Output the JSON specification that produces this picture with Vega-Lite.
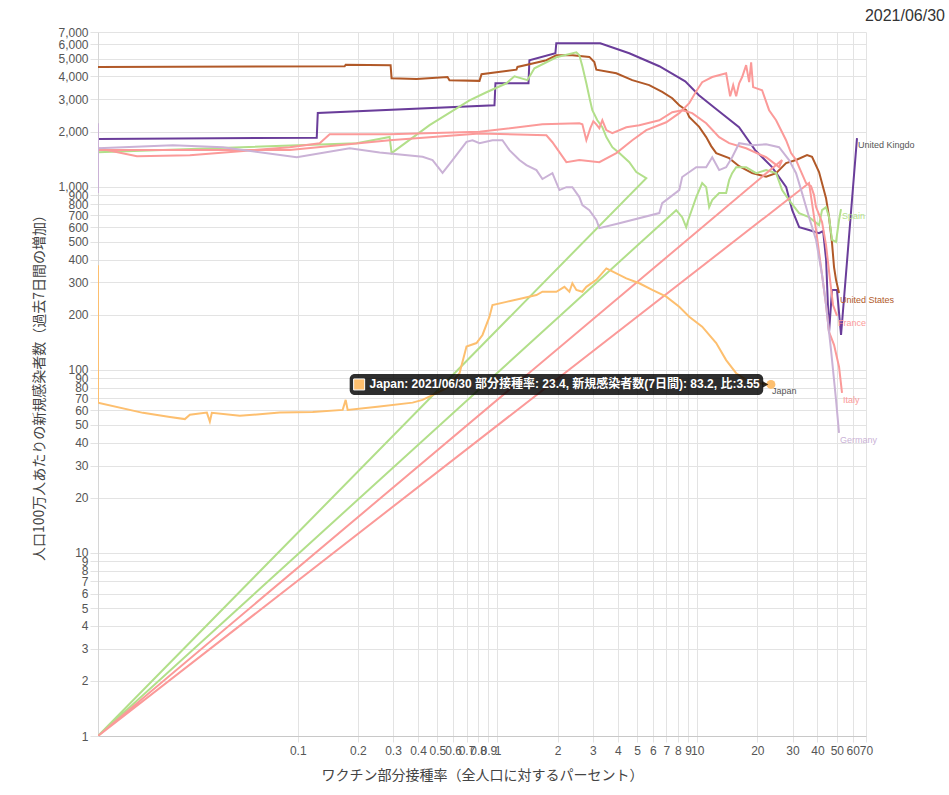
{
"$schema": "https://vega.github.io/schema/vega-lite/v6.json",
"width": 768, "height": 704,
"autosize": {"type": "none"},
"padding": {"left": 98, "top": 32, "right": 83, "bottom": 59},
"background": "white",
"title": {"text": "2021/06/30", "anchor": "end", "frame": "group", "dx": 79, "offset": 2, "fontSize": 16, "fontWeight": "normal", "color": "#333", "font": "Liberation Sans"},
"datasets": {
"series": [
{"c":"United Kingdom","i":0,"x":0.01,"y":1820},{"c":"United Kingdom","i":1,"x":0.1245,"y":1854},{"c":"United Kingdom","i":2,"x":0.126,"y":2530},{"c":"United Kingdom","i":3,"x":0.966,"y":2787},{"c":"United Kingdom","i":4,"x":0.977,"y":3673},{"c":"United Kingdom","i":5,"x":1.43,"y":3673},{"c":"United Kingdom","i":6,"x":1.445,"y":4909},{"c":"United Kingdom","i":7,"x":1.95,"y":5358},{"c":"United Kingdom","i":8,"x":1.97,"y":6073},{"c":"United Kingdom","i":9,"x":3.27,"y":6073},{"c":"United Kingdom","i":10,"x":4.57,"y":5358},{"c":"United Kingdom","i":11,"x":6.46,"y":4550},{"c":"United Kingdom","i":12,"x":8.71,"y":3767},{"c":"United Kingdom","i":13,"x":10.2,"y":3162},{"c":"United Kingdom","i":14,"x":12.3,"y":2685},{"c":"United Kingdom","i":15,"x":16.2,"y":2113},{"c":"United Kingdom","i":16,"x":19.5,"y":1585},{"c":"United Kingdom","i":17,"x":23.7,"y":1279},{"c":"United Kingdom","i":18,"x":27.9,"y":995},{"c":"United Kingdom","i":19,"x":29.9,"y":745},{"c":"United Kingdom","i":20,"x":32.4,"y":602},{"c":"United Kingdom","i":21,"x":36.3,"y":580},{"c":"United Kingdom","i":22,"x":40.7,"y":558},{"c":"United Kingdom","i":23,"x":42.7,"y":573},{"c":"United Kingdom","i":24,"x":44.2,"y":398},{"c":"United Kingdom","i":25,"x":45.7,"y":159},{"c":"United Kingdom","i":26,"x":47.3,"y":273},{"c":"United Kingdom","i":27,"x":50.1,"y":273},{"c":"United Kingdom","i":28,"x":52.5,"y":155},{"c":"United Kingdom","i":29,"x":63.1,"y":1841},
{"c":"United States","i":0,"x":0.01,"y":4509},{"c":"United States","i":1,"x":0.1718,"y":4550},{"c":"United States","i":2,"x":0.1738,"y":4634},{"c":"United States","i":3,"x":0.2917,"y":4603},{"c":"United States","i":4,"x":0.295,"y":3917},{"c":"United States","i":5,"x":0.3936,"y":3872},{"c":"United States","i":6,"x":0.5623,"y":3972},{"c":"United States","i":7,"x":0.575,"y":3819},{"c":"United States","i":8,"x":0.813,"y":3786},{"c":"United States","i":9,"x":0.832,"y":4115},{"c":"United States","i":10,"x":1.245,"y":4361},{"c":"United States","i":11,"x":1.259,"y":4509},{"c":"United States","i":12,"x":1.445,"y":4667},{"c":"United States","i":13,"x":1.758,"y":4909},{"c":"United States","i":14,"x":1.972,"y":5224},{"c":"United States","i":15,"x":2.371,"y":5224},{"c":"United States","i":16,"x":2.884,"y":5117},{"c":"United States","i":17,"x":3.055,"y":4801},{"c":"United States","i":18,"x":3.126,"y":4355},{"c":"United States","i":19,"x":3.936,"y":4168},{"c":"United States","i":20,"x":4.73,"y":3819},{"c":"United States","i":21,"x":5.75,"y":3589},{"c":"United States","i":22,"x":6.68,"y":3299},{"c":"United States","i":23,"x":7.5,"y":3044},{"c":"United States","i":24,"x":8.13,"y":2787},{"c":"United States","i":25,"x":8.81,"y":2618},{"c":"United States","i":26,"x":9.12,"y":2405},{"c":"United States","i":27,"x":10.23,"y":2123},{"c":"United States","i":28,"x":11.09,"y":1866},{"c":"United States","i":29,"x":11.75,"y":1667},{"c":"United States","i":30,"x":12.45,"y":1526},{"c":"United States","i":31,"x":14.45,"y":1432},{"c":"United States","i":32,"x":16.22,"y":1295},{"c":"United States","i":33,"x":18.84,"y":1186},{"c":"United States","i":34,"x":22.13,"y":1135},{"c":"United States","i":35,"x":24.83,"y":1186},{"c":"United States","i":36,"x":27.86,"y":1346},{"c":"United States","i":37,"x":31.26,"y":1399},{"c":"United States","i":38,"x":35.48,"y":1490},{"c":"United States","i":39,"x":37.58,"y":1456},{"c":"United States","i":40,"x":40.74,"y":1202},{"c":"United States","i":41,"x":44.16,"y":866},{"c":"United States","i":42,"x":45.71,"y":682},{"c":"United States","i":43,"x":47.32,"y":492},{"c":"United States","i":44,"x":48.42,"y":364},{"c":"United States","i":45,"x":49.55,"y":310},{"c":"United States","i":46,"x":51.29,"y":263},
{"c":"Spain","i":0,"x":0.01,"y":1007},{"c":"Spain","i":1,"x":0.01,"y":1545},{"c":"Spain","i":2,"x":0.1972,"y":1729},{"c":"Spain","i":3,"x":0.2884,"y":1871},{"c":"Spain","i":4,"x":0.2951,"y":1526},{"c":"Spain","i":5,"x":0.4571,"y":2168},{"c":"Spain","i":6,"x":0.7244,"y":2965},{"c":"Spain","i":7,"x":0.881,"y":3281},{"c":"Spain","i":8,"x":1.109,"y":3673},{"c":"Spain","i":9,"x":1.216,"y":4009},{"c":"Spain","i":10,"x":1.413,"y":3819},{"c":"Spain","i":11,"x":1.531,"y":4436},{"c":"Spain","i":12,"x":1.972,"y":5093},{"c":"Spain","i":13,"x":2.483,"y":5420},{"c":"Spain","i":14,"x":2.57,"y":5224},{"c":"Spain","i":15,"x":2.661,"y":4550},{"c":"Spain","i":16,"x":2.786,"y":3673},{"c":"Spain","i":17,"x":2.884,"y":3083},{"c":"Spain","i":18,"x":2.985,"y":2618},{"c":"Spain","i":19,"x":3.162,"y":2307},{"c":"Spain","i":20,"x":3.35,"y":2113},{"c":"Spain","i":21,"x":3.508,"y":1866},{"c":"Spain","i":22,"x":3.758,"y":1645},{"c":"Spain","i":23,"x":4.074,"y":1526},{"c":"Spain","i":24,"x":4.571,"y":1362},{"c":"Spain","i":25,"x":4.955,"y":1202},{"c":"Spain","i":26,"x":5.559,"y":1114},{"c":"Spain","i":27,"x":0.01,"y":1},{"c":"Spain","i":28,"x":7.85,"y":745},{"c":"Spain","i":29,"x":8.41,"y":682},{"c":"Spain","i":30,"x":8.81,"y":602},{"c":"Spain","i":31,"x":9.02,"y":658},{"c":"Spain","i":32,"x":9.89,"y":878},{"c":"Spain","i":33,"x":10.59,"y":1047},{"c":"Spain","i":34,"x":11.09,"y":995},{"c":"Spain","i":35,"x":11.48,"y":774},{"c":"Spain","i":36,"x":11.89,"y":845},{"c":"Spain","i":37,"x":12.88,"y":923},{"c":"Spain","i":38,"x":13.96,"y":923},{"c":"Spain","i":39,"x":14.45,"y":1086},{"c":"Spain","i":40,"x":14.96,"y":1186},{"c":"Spain","i":41,"x":15.67,"y":1279},{"c":"Spain","i":42,"x":17.58,"y":1279},{"c":"Spain","i":43,"x":19.72,"y":1186},{"c":"Spain","i":44,"x":22.13,"y":1233},{"c":"Spain","i":45,"x":24.83,"y":1186},{"c":"Spain","i":46,"x":26.61,"y":959},{"c":"Spain","i":47,"x":28.84,"y":845},{"c":"Spain","i":48,"x":32.36,"y":718},{"c":"Spain","i":49,"x":36.31,"y":682},{"c":"Spain","i":50,"x":40.74,"y":617},{"c":"Spain","i":51,"x":42.17,"y":745},{"c":"Spain","i":52,"x":44.16,"y":774},{"c":"Spain","i":53,"x":45.71,"y":682},{"c":"Spain","i":54,"x":47.32,"y":512},{"c":"Spain","i":55,"x":49.55,"y":499},{"c":"Spain","i":56,"x":51.29,"y":658},{"c":"Spain","i":57,"x":52.48,"y":755},
{"c":"France","i":0,"x":0.01,"y":1585},{"c":"France","i":1,"x":0.0912,"y":1585},{"c":"France","i":2,"x":0.2884,"y":1795},{"c":"France","i":3,"x":0.813,"y":1954},{"c":"France","i":4,"x":1.758,"y":1911},{"c":"France","i":5,"x":1.884,"y":1750},{"c":"France","i":6,"x":2.213,"y":1362},{"c":"France","i":7,"x":2.57,"y":1399},{"c":"France","i":8,"x":3.236,"y":1362},{"c":"France","i":9,"x":3.936,"y":1526},{"c":"France","i":10,"x":4.732,"y":1795},{"c":"France","i":11,"x":5.559,"y":2037},{"c":"France","i":12,"x":7.0,"y":2250},{"c":"France","i":13,"x":8.13,"y":2523},{"c":"France","i":14,"x":9.12,"y":2860},{"c":"France","i":15,"x":9.89,"y":3325},{"c":"France","i":16,"x":10.59,"y":3724},{"c":"France","i":17,"x":11.89,"y":3972},{"c":"France","i":18,"x":13.96,"y":4168},{"c":"France","i":19,"x":14.62,"y":3118},{"c":"France","i":20,"x":15.14,"y":3589},{"c":"France","i":21,"x":15.67,"y":3118},{"c":"France","i":22,"x":16.22,"y":3673},{"c":"France","i":23,"x":16.79,"y":3972},{"c":"France","i":24,"x":17.58,"y":4613},{"c":"France","i":25,"x":18.2,"y":3724},{"c":"France","i":26,"x":18.62,"y":4786},{"c":"France","i":27,"x":19.05,"y":3499},{"c":"France","i":28,"x":21.13,"y":3367},{"c":"France","i":29,"x":22.91,"y":2618},{"c":"France","i":30,"x":24.83,"y":2307},{"c":"France","i":31,"x":27.86,"y":1795},{"c":"France","i":32,"x":29.51,"y":1526},{"c":"France","i":33,"x":31.26,"y":1399},{"c":"France","i":34,"x":32.36,"y":1279},{"c":"France","i":35,"x":35.08,"y":1047},{"c":"France","i":36,"x":37.15,"y":1007},{"c":"France","i":37,"x":38.46,"y":900},{"c":"France","i":38,"x":39.36,"y":774},{"c":"France","i":39,"x":42.17,"y":641},{"c":"France","i":40,"x":44.16,"y":480},{"c":"France","i":41,"x":46.24,"y":310},{"c":"France","i":42,"x":47.86,"y":226},{"c":"France","i":43,"x":50.12,"y":197},
{"c":"Italy","i":0,"x":0.01,"y":1623},{"c":"Italy","i":1,"x":0.01567,"y":1469},{"c":"Italy","i":2,"x":0.02884,"y":1486},{"c":"Italy","i":3,"x":0.0912,"y":1645},{"c":"Italy","i":4,"x":0.1288,"y":1729},{"c":"Italy","i":5,"x":0.1445,"y":1936},{"c":"Italy","i":6,"x":0.2884,"y":1936},{"c":"Italy","i":7,"x":0.813,"y":1994},{"c":"Italy","i":8,"x":1.679,"y":2193},{"c":"Italy","i":9,"x":2.57,"y":2223},{"c":"Italy","i":10,"x":2.661,"y":2193},{"c":"Italy","i":11,"x":2.786,"y":1795},{"c":"Italy","i":12,"x":2.917,"y":2089},{"c":"Italy","i":13,"x":3.02,"y":2280},{"c":"Italy","i":14,"x":3.126,"y":2193},{"c":"Italy","i":15,"x":3.236,"y":2089},{"c":"Italy","i":16,"x":3.35,"y":2307},{"c":"Italy","i":17,"x":3.508,"y":2037},{"c":"Italy","i":18,"x":3.758,"y":1959},{"c":"Italy","i":19,"x":4.416,"y":2113},{"c":"Italy","i":20,"x":5.129,"y":2168},{"c":"Italy","i":21,"x":6.46,"y":2307},{"c":"Italy","i":22,"x":7.5,"y":2553},{"c":"Italy","i":23,"x":8.41,"y":2618},{"c":"Italy","i":24,"x":9.44,"y":2523},{"c":"Italy","i":25,"x":11.09,"y":2223},{"c":"Italy","i":26,"x":12.88,"y":1866},{"c":"Italy","i":27,"x":14.45,"y":1729},{"c":"Italy","i":28,"x":17.58,"y":1623},{"c":"Italy","i":29,"x":22.13,"y":1449},{"c":"Italy","i":30,"x":25.7,"y":1279},{"c":"Italy","i":31,"x":26.6,"y":1399},{"c":"Italy","i":32,"x":0.01,"y":1},{"c":"Italy","i":33,"x":36.3,"y":1047},{"c":"Italy","i":34,"x":39.36,"y":580},{"c":"Italy","i":35,"x":42.17,"y":330},{"c":"Italy","i":36,"x":44.16,"y":226},{"c":"Italy","i":37,"x":45.71,"y":161},{"c":"Italy","i":38,"x":48.42,"y":137},{"c":"Italy","i":39,"x":51.29,"y":104},{"c":"Italy","i":40,"x":53.09,"y":74.8},
{"c":"Germany","i":0,"x":0.01,"y":923},{"c":"Germany","i":1,"x":0.01,"y":2223},{"c":"Germany","i":2,"x":0.01,"y":1623},{"c":"Germany","i":3,"x":0.0237,"y":1687},{"c":"Germany","i":4,"x":0.0422,"y":1645},{"c":"Germany","i":5,"x":0.0989,"y":1449},{"c":"Germany","i":6,"x":0.182,"y":1623},{"c":"Germany","i":7,"x":0.257,"y":1538},{"c":"Germany","i":8,"x":0.4217,"y":1456},{"c":"Germany","i":9,"x":0.4732,"y":1399},{"c":"Germany","i":10,"x":0.531,"y":1191},{"c":"Germany","i":11,"x":0.5957,"y":1399},{"c":"Germany","i":12,"x":0.6998,"y":1758},{"c":"Germany","i":13,"x":0.75,"y":1795},{"c":"Germany","i":14,"x":0.813,"y":1729},{"c":"Germany","i":15,"x":0.944,"y":1795},{"c":"Germany","i":16,"x":1.059,"y":1795},{"c":"Germany","i":17,"x":1.148,"y":1585},{"c":"Germany","i":18,"x":1.288,"y":1399},{"c":"Germany","i":19,"x":1.396,"y":1312},{"c":"Germany","i":20,"x":1.567,"y":1233},{"c":"Germany","i":21,"x":1.679,"y":1102},{"c":"Germany","i":22,"x":1.884,"y":1186},{"c":"Germany","i":23,"x":2.042,"y":959},{"c":"Germany","i":24,"x":2.213,"y":995},{"c":"Germany","i":25,"x":2.371,"y":995},{"c":"Germany","i":26,"x":2.57,"y":878},{"c":"Germany","i":27,"x":2.661,"y":794},{"c":"Germany","i":28,"x":2.884,"y":745},{"c":"Germany","i":29,"x":3.126,"y":658},{"c":"Germany","i":30,"x":3.236,"y":594},{"c":"Germany","i":31,"x":4.074,"y":632},{"c":"Germany","i":32,"x":6.46,"y":718},{"c":"Germany","i":33,"x":6.68,"y":814},{"c":"Germany","i":34,"x":8.13,"y":959},{"c":"Germany","i":35,"x":8.41,"y":1130},{"c":"Germany","i":36,"x":9.89,"y":1279},{"c":"Germany","i":37,"x":11.09,"y":1279},{"c":"Germany","i":38,"x":11.89,"y":1449},{"c":"Germany","i":39,"x":12.88,"y":1233},{"c":"Germany","i":40,"x":13.96,"y":1279},{"c":"Germany","i":41,"x":14.96,"y":1449},{"c":"Germany","i":42,"x":16.22,"y":1729},{"c":"Germany","i":43,"x":18.84,"y":1687},{"c":"Germany","i":44,"x":22.13,"y":1706},{"c":"Germany","i":45,"x":25.7,"y":1645},{"c":"Germany","i":46,"x":28.84,"y":1399},{"c":"Germany","i":47,"x":31.26,"y":1186},{"c":"Germany","i":48,"x":33.5,"y":923},{"c":"Germany","i":49,"x":36.31,"y":682},{"c":"Germany","i":50,"x":39.36,"y":512},{"c":"Germany","i":51,"x":42.17,"y":330},{"c":"Germany","i":52,"x":44.16,"y":226},{"c":"Germany","i":53,"x":46.77,"y":128.5},{"c":"Germany","i":54,"x":49.55,"y":68.5},{"c":"Germany","i":55,"x":51.29,"y":45.3},
{"c":"Japan","i":0,"x":0.01,"y":240.5},{"c":"Japan","i":1,"x":0.01,"y":373},{"c":"Japan","i":2,"x":0.01,"y":165},{"c":"Japan","i":3,"x":0.01,"y":66.1},{"c":"Japan","i":4,"x":0.01679,"y":58.2},{"c":"Japan","i":5,"x":0.02291,"y":55.3},{"c":"Japan","i":6,"x":0.02723,"y":53.8},{"c":"Japan","i":7,"x":0.02884,"y":56.8},{"c":"Japan","i":8,"x":0.03508,"y":58.4},{"c":"Japan","i":9,"x":0.03631,"y":52.2},{"c":"Japan","i":10,"x":0.03715,"y":58.2},{"c":"Japan","i":11,"x":0.0513,"y":56.1},{"c":"Japan","i":12,"x":0.0813,"y":58.4},{"c":"Japan","i":13,"x":0.1189,"y":58.9},{"c":"Japan","i":14,"x":0.1679,"y":60.4},{"c":"Japan","i":15,"x":0.1738,"y":68.5},{"c":"Japan","i":16,"x":0.1778,"y":60.4},{"c":"Japan","i":17,"x":0.257,"y":63.0},{"c":"Japan","i":18,"x":0.3758,"y":66.2},{"c":"Japan","i":19,"x":0.4217,"y":68.5},{"c":"Japan","i":20,"x":0.5559,"y":79.4},{"c":"Japan","i":21,"x":0.6457,"y":95.8},{"c":"Japan","i":22,"x":0.6998,"y":134},{"c":"Japan","i":23,"x":0.7852,"y":140},{"c":"Japan","i":24,"x":0.8414,"y":155},{"c":"Japan","i":25,"x":0.912,"y":195},{"c":"Japan","i":26,"x":0.944,"y":226},{"c":"Japan","i":27,"x":1.109,"y":235},{"c":"Japan","i":28,"x":1.334,"y":246},{"c":"Japan","i":29,"x":1.567,"y":256},{"c":"Japan","i":30,"x":1.679,"y":267},{"c":"Japan","i":31,"x":1.972,"y":267},{"c":"Japan","i":32,"x":2.163,"y":284},{"c":"Japan","i":33,"x":2.291,"y":267},{"c":"Japan","i":34,"x":2.371,"y":297},{"c":"Japan","i":35,"x":2.483,"y":273},{"c":"Japan","i":36,"x":2.661,"y":267},{"c":"Japan","i":37,"x":2.786,"y":284},{"c":"Japan","i":38,"x":3.126,"y":310},{"c":"Japan","i":39,"x":3.508,"y":358},{"c":"Japan","i":40,"x":3.631,"y":351},{"c":"Japan","i":41,"x":4.416,"y":316},{"c":"Japan","i":42,"x":5.129,"y":297},{"c":"Japan","i":43,"x":5.957,"y":273},{"c":"Japan","i":44,"x":7.0,"y":251},{"c":"Japan","i":45,"x":8.13,"y":221},{"c":"Japan","i":46,"x":9.12,"y":195},{"c":"Japan","i":47,"x":10.59,"y":172},{"c":"Japan","i":48,"x":12.45,"y":140},{"c":"Japan","i":49,"x":13.96,"y":113},{"c":"Japan","i":50,"x":15.67,"y":95.8},{"c":"Japan","i":51,"x":17.58,"y":88.1},{"c":"Japan","i":52,"x":19.72,"y":84.5},{"c":"Japan","i":53,"x":23.4,"y":83.2}
],
"labels": [
{"c":"United Kingdom","t":"United Kingdo","x":63.1,"y":1841},
{"c":"Spain","t":"Spain","x":52.48,"y":755},
{"c":"United States","t":"United States","x":51.29,"y":263},
{"c":"France","t":"France","x":50.12,"y":197},
{"c":"Italy","t":"Italy","x":53.09,"y":74.8},
{"c":"Germany","t":"Germany","x":51.29,"y":45.3},
{"c":"Japan","t":"Japan","x":23.4,"y":83.2}
]
},
"encoding": {
"x": {"field": "x", "type": "quantitative",
 "scale": {"type": "log", "domain": [0.01, 70], "nice": false},
 "axis": {"title": "ワクチン部分接種率（全人口に対するパーセント）",
  "values": [0.1,0.2,0.3,0.4,0.5,0.6,0.7,0.8,0.9,1,2,3,4,5,6,7,8,9,10,20,30,40,50,60,70],
  "format": "~g", "labelOverlap": false, "labelFlush": false, "grid": true,
  "gridColor": "#e3e3e3", "tickColor": "#e3e3e3", "tickSize": 6, "domainColor": "#c8c8c8",
  "labelFont": "Liberation Sans", "labelFontSize": 12, "labelColor": "#555", "labelPadding": 3,
  "titleFont": "Noto Sans CJK JP", "titleFontSize": 14, "titleFontWeight": "normal", "titleColor": "#444", "titlePadding": 12}},
"y": {"field": "y", "type": "quantitative",
 "scale": {"type": "log", "domain": [1, 7000], "nice": false},
 "axis": {"title": "人口100万人あたりの新規感染者数（過去7日間の増加）",
  "values": [1,2,3,4,5,6,7,8,9,10,20,30,40,50,60,70,80,90,100,200,300,400,500,600,700,800,900,1000,2000,3000,4000,5000,6000,7000],
  "format": ",~g", "labelOverlap": false, "grid": true,
  "gridColor": "#e3e3e3", "tickColor": "#e3e3e3", "tickSize": 8, "domainColor": "#d6d6d6",
  "labelFont": "Liberation Sans", "labelFontSize": 12, "labelColor": "#555", "labelPadding": 2,
  "titleFont": "Noto Sans CJK JP", "titleFontSize": 14, "titleFontWeight": "normal", "titleColor": "#444", "titlePadding": 11}}
},
"layer": [
{"data": {"name": "series"},
 "mark": {"type": "line", "strokeWidth": 2, "clip": true},
 "encoding": {
  "color": {"field": "c", "type": "nominal", "legend": null,
   "scale": {"domain": ["France","Germany","Italy","Japan","Spain","United Kingdom","United States"],
             "range": ["#fb9a99","#cab2d6","#fb9a99","#fdbf6f","#b2df8a","#6a3d9a","#b15928"]}},
  "order": {"field": "i", "type": "quantitative"}}},
{"data": {"name": "labels"},
 "mark": {"type": "text", "align": "left", "baseline": "middle", "dx": 1, "dy": 7, "fontSize": 9, "font": "Liberation Sans"},
 "encoding": {
  "text": {"field": "t"},
  "color": {"condition": {"test": "datum.c === 'Japan' || datum.c === 'United Kingdom'", "value": "#555"},
   "field": "c", "type": "nominal", "legend": null}}},
{"data": {"values": [{"x": 23.4, "y": 83.2}]},
 "mark": {"type": "point", "shape": "circle", "filled": true, "size": 80, "color": "#fdbf6f", "opacity": 1}},
{"data": {"values": [{"x": 0.182, "x2": 21.4, "y": 95, "y2": 72.9}]},
 "mark": {"type": "rect", "color": "#000", "opacity": 0.82, "cornerRadius": 5},
 "encoding": {"x2": {"field": "x2"}, "y2": {"field": "y2"}}},
{"data": {"values": [{"x": 21.95, "y": 83.2}]},
 "mark": {"type": "point", "shape": "triangle-right", "filled": true, "size": 45, "color": "#000", "opacity": 0.82}},
{"data": {"values": [{"x": 0.203, "y": 83.2}]},
 "mark": {"type": "point", "shape": "square", "filled": true, "size": 121, "color": "#fdbf6f", "stroke": "#fff", "strokeWidth": 1, "opacity": 1}},
{"data": {"values": [{"x": 0.229, "y": 83.2, "t": "Japan: 2021/06/30 部分接種率: 23.4, 新規感染者数(7日間): 83.2, 比:3.55"}]},
 "mark": {"type": "text", "align": "left", "baseline": "middle", "color": "#fff", "fontSize": 12, "fontWeight": "bold", "font": "Liberation Sans, Noto Sans CJK JP"},
 "encoding": {"text": {"field": "t"}}}
],
"config": {"view": {"stroke": null}, "font": "Liberation Sans"}
}
